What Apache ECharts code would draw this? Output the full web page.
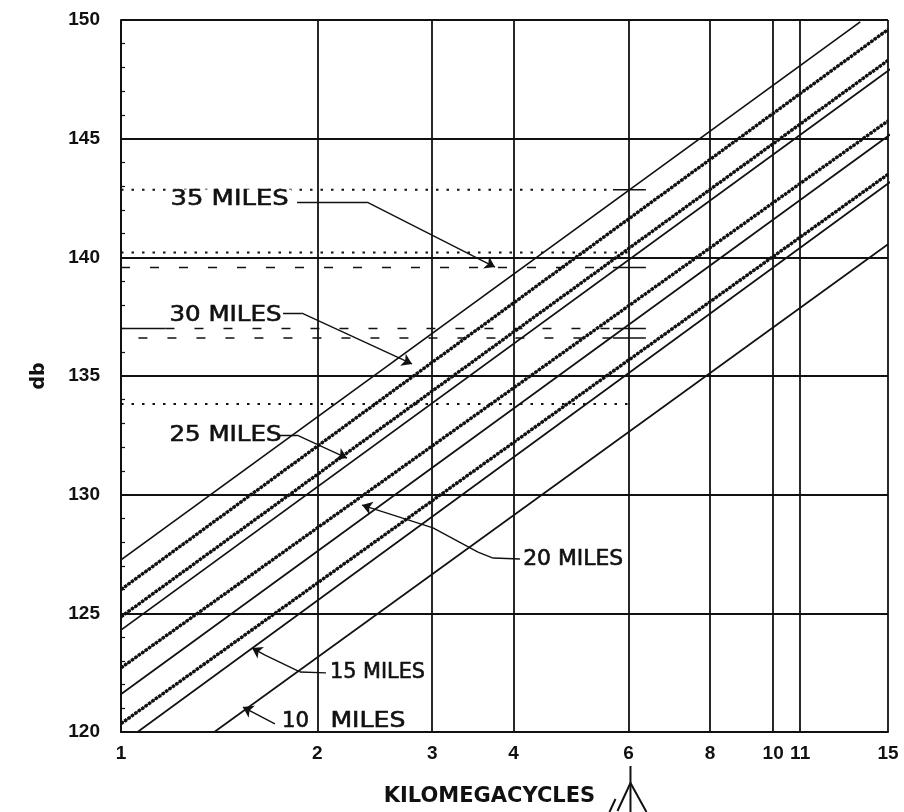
<!DOCTYPE html>
<html>
<head>
<meta charset="utf-8">
<script src="https://cdn.jsdelivr.net/npm/echarts@6/dist/echarts.min.js"></script>
<style>
  html, body { margin: 0; padding: 0; background: #fff; }
  #chart { width: 904px; height: 812px; }
</style>
</head>
<body>
<div id="chart"></div>
<script>
// axis ticks
const freqTicks = [1, 2, 3, 4, 6, 8, 10, 11, 15];   // kilomegacycles, log scale
const dbMin = 120, dbMax = 150, dbStep = 5;

// loss lines, [kMc, db] end points
const solidLines = [
  [[1, 127.25], [13.6, 149.92]],
  [[0.95, 123.85], [15.6, 148.2]],
  [[0.95, 121.15], [15.6, 145.45]],
  [[1.06, 120], [15.6, 143.45]],
  [[1.39, 120], [15, 140.55]]
];
const roughLines = [
  [[1, 126.0], [15, 149.6]],
  [[1, 124.85], [15, 148.3]],
  [[1, 122.7], [15, 145.75]],
  [[1, 120.35], [15, 143.5]]
];

// horizontal reference levels
const dottedLevels = [142.85, 140.2, 133.82];
const dottedEnds = [5.68, 6.0, 6.05];
const dashedLevels = [139.57, 137.0, 136.6];
const dashedStarts = [1.0, 1.17, 0.96];
const dashedEnds = [5.68, 5.68, 5.68];
const crossLevels = [142.85, 139.57, 137.0, 136.6];
const crossSpan = [5.68, 6.38];
const leadIn = [[0.96, 137.0], [1.17, 137.0]];

// distance labels + leaders
const distLabels = ['35 MILES', '30 MILES', '25 MILES', '20 MILES', '15 MILES', '10', 'MILES'];
const labelAt = [[1.181, 142.42], [1.177, 137.53], [1.177, 132.51], [4.106, 127.25], [2.077, 122.49], [1.753, 120.42], [2.077, 120.42]];
const labelWidth = [118, 112, 112, 100, 95, 27, 75];
const leaders = [
  [[1.862, 142.33], [2.384, 142.33], [3.745, 139.59]],
  [[1.772, 137.65], [1.894, 137.65], [2.794, 135.51]],
  [[1.753, 132.51], [1.862, 132.51], [2.221, 131.54]],
  [[4.09, 127.29], [3.72, 127.33], [3.527, 127.58], [3.009, 128.6], [2.342, 129.56]],
  [[2.062, 122.49], [1.881, 122.53], [1.663, 123.24], [1.588, 123.54]],
  [[1.722, 120.34], [1.538, 121.05]]
];

const ink = '#111';
const series = [];

solidLines.forEach(function (pts) {
  series.push({ type: 'line', data: pts, symbol: 'none', clip: false, silent: true,
    lineStyle: { color: ink, width: 1.7 } });
});
roughLines.forEach(function (pts) {
  series.push({ type: 'line', data: pts, symbol: 'none', silent: true,
    lineStyle: { color: ink, width: 1.2 } });
  series.push({ type: 'line', data: pts, symbol: 'none', silent: true,
    lineStyle: { color: ink, width: 3.4, type: [3, 1.2] } });
});

dottedLevels.forEach(function (v, i) {
  series.push({ type: 'line', data: [[1, v], [dottedEnds[i], v]], symbol: 'none', silent: true,
    lineStyle: { color: ink, width: 2, type: [2.5, 8] } });
});
dashedLevels.forEach(function (v, i) {
  series.push({ type: 'line', data: [[dashedStarts[i], v], [dashedEnds[i], v]], symbol: 'none', clip: false, silent: true,
    lineStyle: { color: ink, width: 1.6, type: [9, 20] } });
});
crossLevels.forEach(function (v) {
  series.push({ type: 'line', data: [[crossSpan[0], v], [crossSpan[1], v]], symbol: 'none', silent: true,
    lineStyle: { color: ink, width: 1.5 } });
});
series.push({ type: 'line', data: leadIn, symbol: 'none', clip: false, silent: true,
  lineStyle: { color: ink, width: 1.5 } });

// leader bends, then last segment with arrow head
const bends = [], tips = [];
leaders.forEach(function (c) {
  for (let i = 0; i < c.length - 2; i++) bends.push({ coords: [c[i], c[i + 1]] });
  tips.push({ coords: [c[c.length - 2], c[c.length - 1]] });
});
series.push({ type: 'lines', coordinateSystem: 'cartesian2d', data: bends, silent: true, z: 6,
  symbol: 'none', lineStyle: { color: ink, width: 1.4, opacity: 1, curveness: 0 } });
series.push({ type: 'lines', coordinateSystem: 'cartesian2d', data: tips, silent: true, z: 6,
  symbol: ['none', 'arrow'], symbolSize: 10, lineStyle: { color: ink, width: 1.4, opacity: 1, curveness: 0 } });

const option = {
  backgroundColor: '#fff',
  animation: false,
  grid: { left: 121, right: 16, top: 20, bottom: 80, containLabel: false, outerBoundsMode: 'none' },
  xAxis: {
    type: 'log', logBase: 10, min: 1, max: 15,
    axisLine: { show: true, lineStyle: { color: ink, width: 2 } },
    axisTick: { show: false, customValues: freqTicks },
    minorTick: { show: false },
    splitLine: { show: true, lineStyle: { color: ink, width: 1.8 } },
    axisLabel: { customValues: freqTicks, color: ink, fontFamily: 'Liberation Sans', fontWeight: 'bold', fontSize: 19, margin: 12 },
    name: 'KILOMEGACYCLES', nameLocation: 'middle', nameGap: 54,
    nameTextStyle: { color: ink, fontFamily: 'DejaVu Sans', fontWeight: 'bold', fontSize: 21, padding: [0, 30, 0, 0] }
  },
  yAxis: {
    type: 'value', min: dbMin, max: dbMax, interval: dbStep,
    axisLine: { show: true, lineStyle: { color: ink, width: 2 } },
    axisTick: { show: true, inside: true, length: 5, lineStyle: { color: ink, width: 1.5 } },
    minorTick: { show: true, splitNumber: 5, length: 4, lineStyle: { color: ink, width: 1.2 } },
    splitLine: { show: true, lineStyle: { color: ink, width: 1.8 } },
    axisLabel: { color: ink, fontFamily: 'Liberation Sans', fontWeight: 'bold', fontSize: 19, margin: 21 },
    name: 'db', nameLocation: 'middle', nameGap: 72,
    nameTextStyle: { color: ink, fontFamily: 'DejaVu Sans', fontWeight: 'bold', fontSize: 19 }
  },
  series: series
};

const chart = echarts.init(document.getElementById('chart'));
chart.setOption(option);

// labels stretched to the lettering width of the original
const font = '21px "DejaVu Sans"';
const ctx = document.createElement('canvas').getContext('2d');
ctx.font = font;
const graphics = distLabels.map(function (t, i) {
  const p = chart.convertToPixel({ gridIndex: 0 }, labelAt[i]);
  const w = ctx.measureText(t).width;
  return {
    type: 'text', x: p[0], y: p[1], scaleX: labelWidth[i] / w, z: 100,
    style: { text: t, font: font, fill: ink, align: 'left', verticalAlign: 'middle',
      backgroundColor: i === 0 ? '#fff' : 'transparent', padding: [0, 2],
      stroke: ink, lineWidth: 0.6 }
  };
});

// little antenna mark under the 6 kMc label
const p6 = chart.convertToPixel({ gridIndex: 0 }, [6, 120]);
const ax = p6[0] + 2, ay = p6[1];
graphics.push({ type: 'polyline', z: 100, shape: { points: [[ax, ay + 34], [ax, ay + 80]] }, style: { stroke: ink, lineWidth: 2 } });
graphics.push({ type: 'polyline', z: 100, shape: { points: [[ax - 13, ay + 79], [ax, ay + 51], [ax + 16, ay + 80]] }, style: { stroke: ink, lineWidth: 2, fill: null } });
graphics.push({ type: 'polyline', z: 100, shape: { points: [[ax - 21, ay + 80], [ax - 15, ay + 67]] }, style: { stroke: ink, lineWidth: 2 } });

chart.setOption({ graphic: graphics });
</script>
</body>
</html>
